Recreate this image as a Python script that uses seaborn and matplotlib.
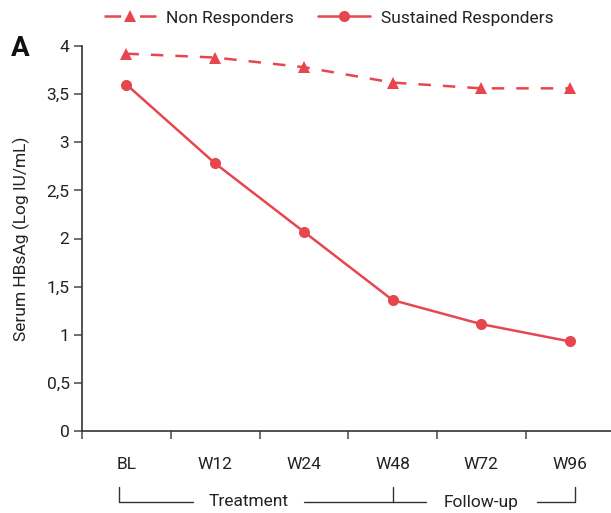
import matplotlib
matplotlib.use("Agg")
import matplotlib.pyplot as plt
import matplotlib.transforms as mtransforms
from matplotlib.lines import Line2D
import numpy as np
import pandas as pd
import seaborn as sns

timepoints = ["BL", "W12", "W24", "W48", "W72", "W96"]
non_responders = [3.92, 3.88, 3.78, 3.62, 3.56, 3.56]
sustained_responders = [3.60, 2.78, 2.07, 1.36, 1.11, 0.93]
y_ticks = [0, 0.5, 1, 1.5, 2, 2.5, 3, 3.5, 4]
y_tick_labels = ["0", "0,5", "1", "1,5", "2", "2,5", "3", "3,5", "4"]

sns.set_style("white")
plt.rcParams["font.family"] = ["Roboto", "DejaVu Sans"]
RED = "#E8464F"
TXT = "#222222"
FS = 12.5
LW = 1.8
DASH = (0, (5.0, 4.8))
LEGEND_DASH = (0, (6.7, 7.5))

df = pd.DataFrame({
    "pos": np.arange(len(timepoints)),
    "Non Responders": non_responders,
    "Sustained Responders": sustained_responders,
})

fig = plt.figure(figsize=(6.11, 5.13), dpi=100)
ax = fig.add_axes([82 / 611, (513 - 431) / 513, 1 - 82 / 611, (431 - 46) / 513])

sns.lineplot(data=df, x="pos", y="Non Responders", ax=ax, color=RED, lw=LW,
             marker="^", markersize=8, markeredgewidth=0)
ax.lines[-1].set_linestyle(DASH)
sns.lineplot(data=df, x="pos", y="Sustained Responders", ax=ax, color=RED, lw=LW,
             marker="o", markersize=8, markeredgewidth=0)

ax.set_xlim(-0.5, 5.46)
ax.set_ylim(0, 4)
ax.set_yticks(y_ticks)
ax.set_yticklabels(y_tick_labels)
ax.set_xticks(np.arange(len(timepoints)))
ax.set_xticklabels(timepoints)
ax.set_xticks(np.arange(-0.5, 5.0, 1.0), minor=True)
ax.tick_params(axis="x", which="major", bottom=True, length=0, pad=19,
               labelsize=FS, labelcolor=TXT)
ax.tick_params(axis="x", which="minor", bottom=True, length=6, width=1.2,
               color="#555555", direction="out")
ax.tick_params(axis="y", left=True, length=6, width=1.2, color="#555555",
               direction="out", pad=3, labelsize=FS, labelcolor=TXT)
ax.set_xlabel("")
ax.set_ylabel("Serum HBsAg (Log IU/mL)", fontsize=FS, color=TXT, labelpad=12)

for side in ["top", "right"]:
    ax.spines[side].set_visible(False)
for side in ["left", "bottom"]:
    ax.spines[side].set_color("#333333")
    ax.spines[side].set_linewidth(1.2)

# Study-phase brackets below the time axis
tr = mtransforms.blended_transform_factory(ax.transData, fig.transFigure)
y_low = 1 - 502 / 513
y_high = 1 - 487 / 513
lk = dict(color="#333333", lw=1.0, transform=tr, clip_on=False)
ax.plot([-0.08, -0.08, 0.75], [y_high, y_low, y_low], **lk)
ax.plot([2.0, 3.0], [y_low, y_low], **lk)
ax.plot([3.0, 3.0], [y_high, y_low], **lk)
ax.plot([3.0, 3.38], [y_low, y_low], **lk)
ax.plot([4.63, 5.05, 5.05], [y_low, y_low, y_high], **lk)
ax.text(1.38, y_low, "Treatment", transform=tr, ha="center", va="center",
        fontsize=FS, color=TXT)
ax.text(4.0, y_low, "Follow-up", transform=tr, ha="center", va="center",
        fontsize=FS, color=TXT)

fig.text(11 / 611, 1 - 48 / 513, "A", fontsize=20, fontweight="bold",
         color="#111111", va="center", ha="left")

handles = [
    Line2D([], [], color=RED, lw=LW, ls=LEGEND_DASH, marker="^", markersize=8,
           markeredgewidth=0),
    Line2D([], [], color=RED, lw=LW, marker="o", markersize=8, markeredgewidth=0),
]
fig.legend(handles, ["Non Responders", "Sustained Responders"], ncol=2,
           loc="center left", bbox_to_anchor=(88 / 611, 1 - 18 / 513), frameon=False,
           handlelength=3.0, columnspacing=1.4, handletextpad=0.6, fontsize=FS,
           labelcolor=TXT)

fig.savefig("out.png", dpi=100)
